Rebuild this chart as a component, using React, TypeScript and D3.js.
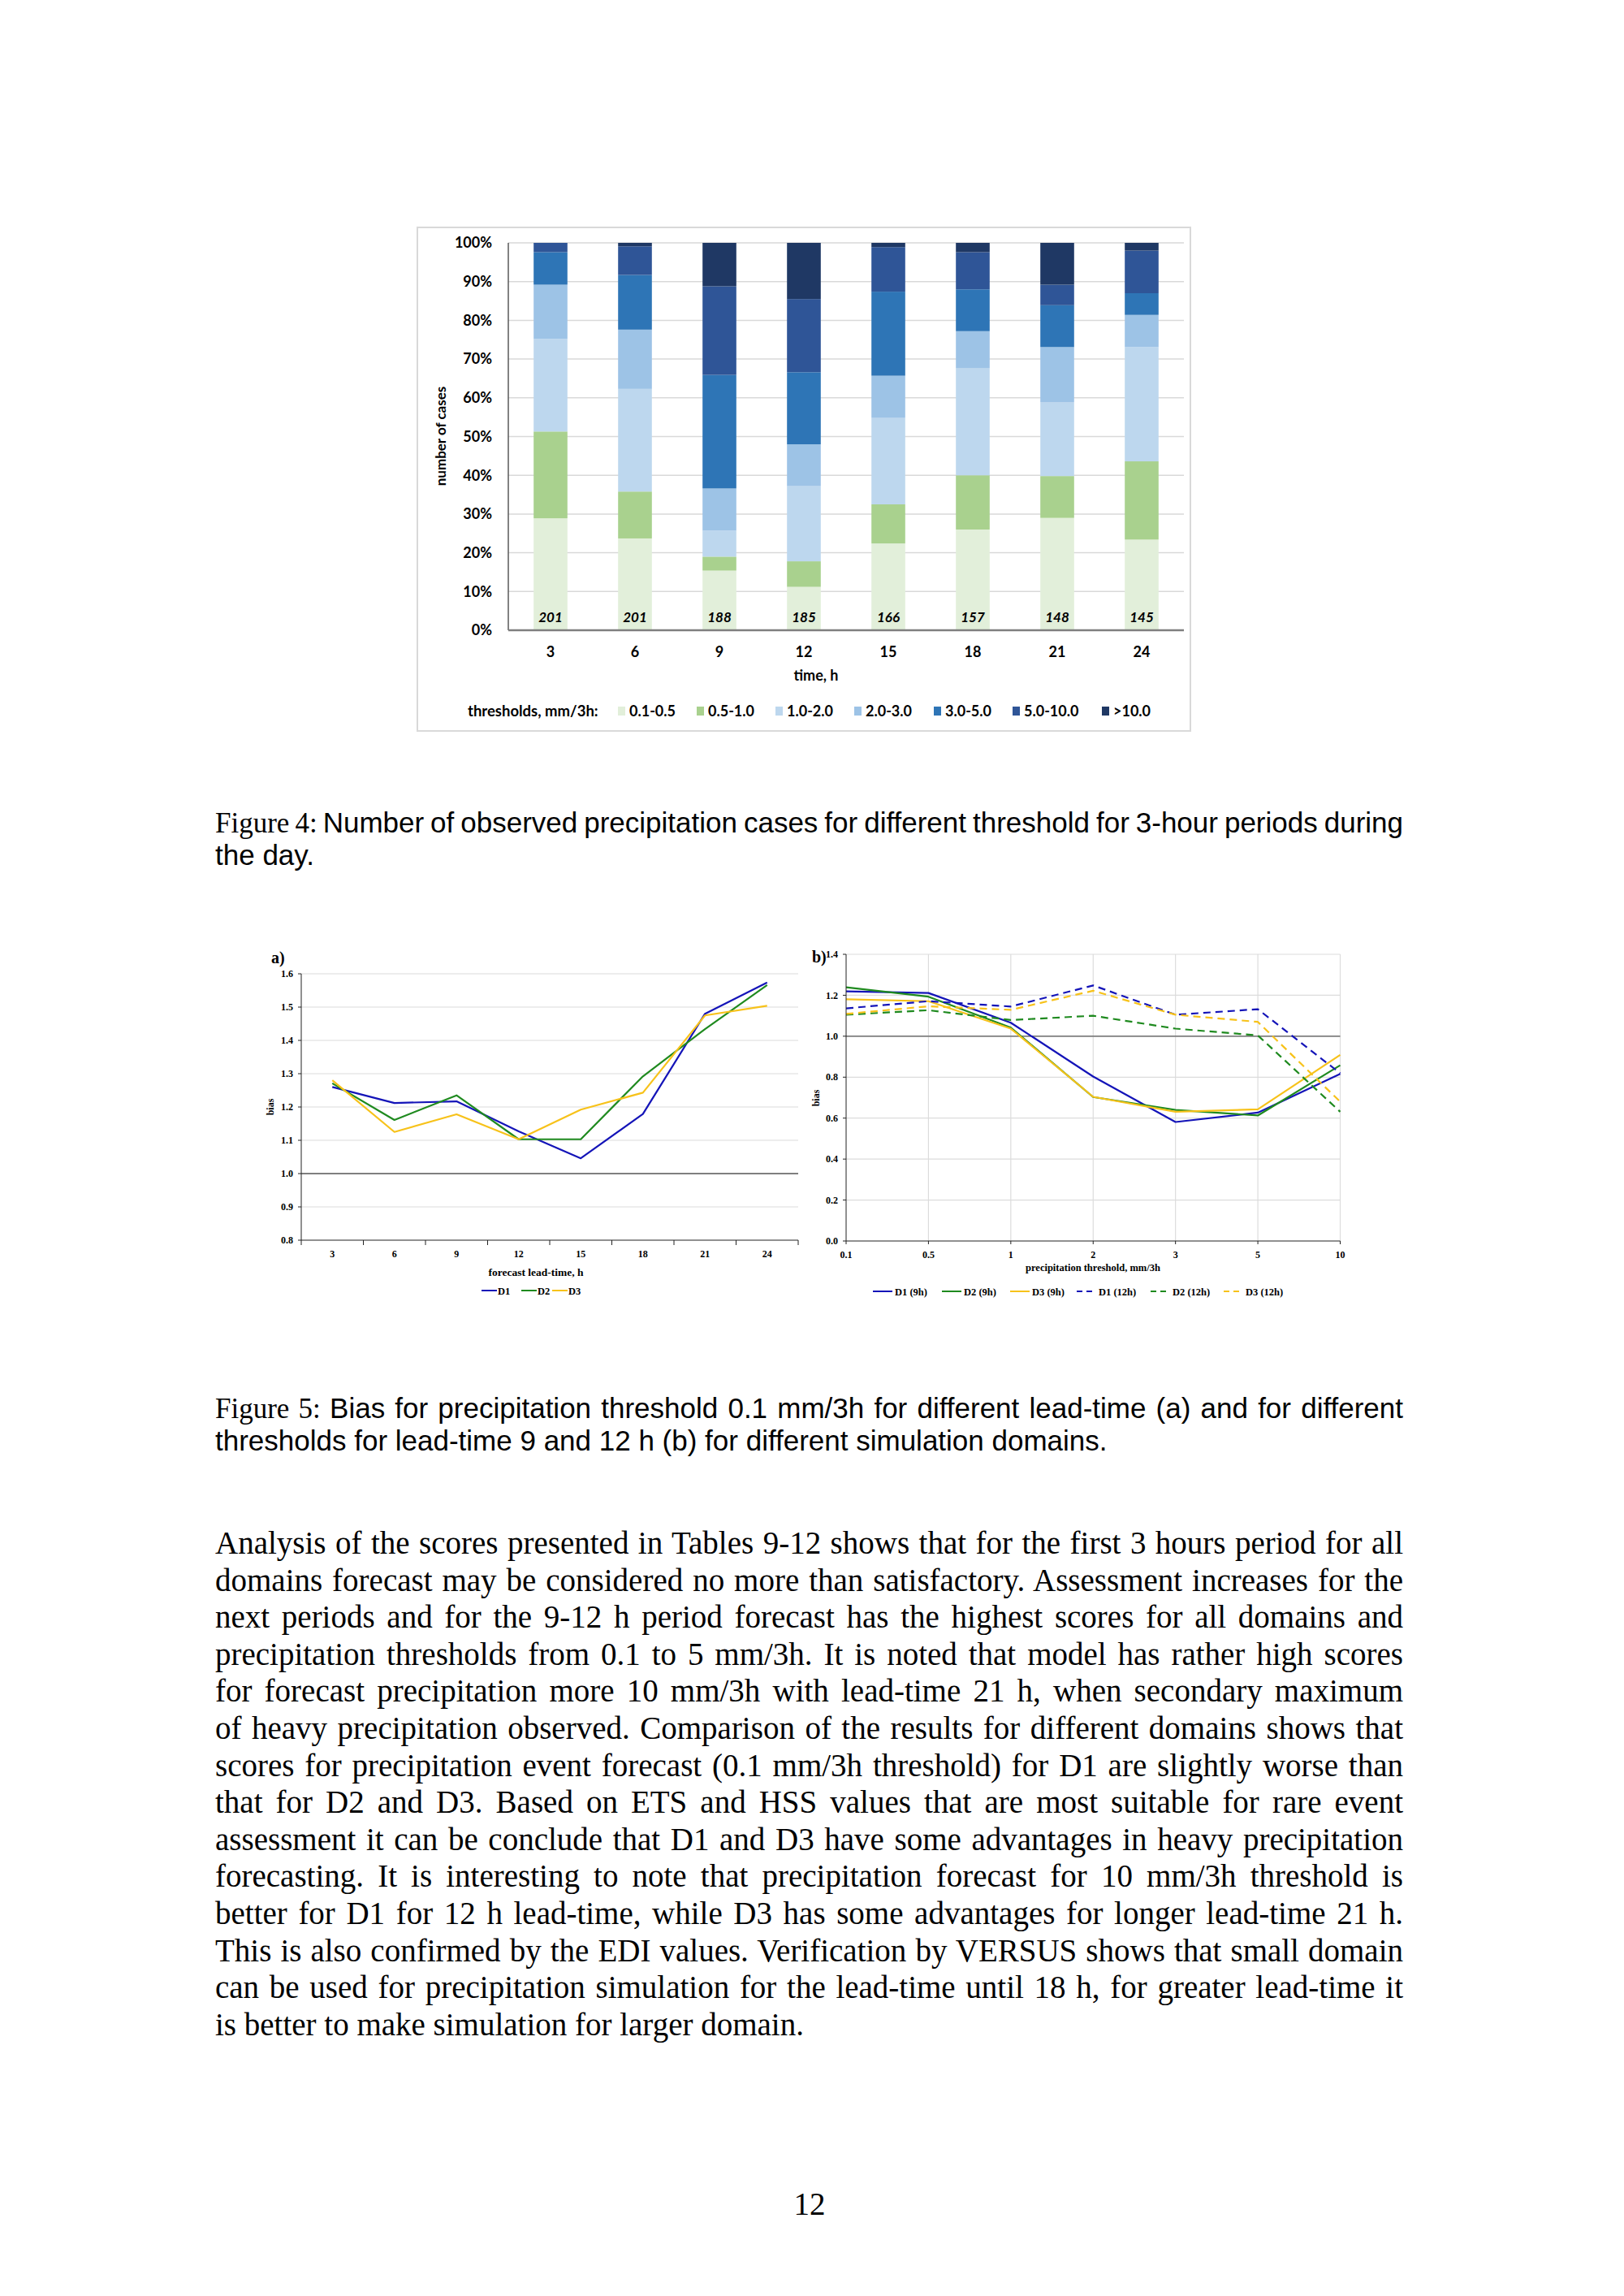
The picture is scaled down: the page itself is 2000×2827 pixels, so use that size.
import React, { useEffect, useRef } from 'react';
import * as d3 from 'd3';

// Figure 4: share of cases per threshold class (percent), per 3-hour period
const hours = [3, 6, 9, 12, 15, 18, 21, 24];
const caseCounts = [201, 201, 188, 185, 166, 157, 148, 145];
const thresholdClasses = ['0.1-0.5', '0.5-1.0', '1.0-2.0', '2.0-3.0', '3.0-5.0', '5.0-10.0', '>10.0'];
const share01to05 = [28.9, 23.7, 15.4, 11.2, 22.4, 26.0, 29.0, 23.4];
const share05to10 = [22.4, 12.1, 3.6, 6.6, 10.1, 14.0, 10.8, 20.2];
const share10to20 = [23.9, 26.5, 6.7, 19.4, 22.3, 27.6, 19.1, 29.5];
const share20to30 = [14.0, 15.3, 10.9, 10.8, 10.9, 9.6, 14.2, 8.3];
const share30to50 = [8.4, 14.1, 29.3, 18.6, 21.7, 10.8, 10.8, 5.6];
const share50to100 = [2.4, 7.4, 22.9, 18.9, 11.5, 9.6, 5.3, 11.0];
const shareOver10 = [0, 0.9, 11.2, 14.5, 1.1, 2.4, 10.8, 2.0];
const pctTicks = [0, 10, 20, 30, 40, 50, 60, 70, 80, 90, 100];

// Figure 5a: bias vs lead-time
const leadTimes = [3, 6, 9, 12, 15, 18, 21, 24];
const biasD1 = [1.26, 1.212, 1.217, 1.127, 1.046, 1.179, 1.48, 1.574];
const biasD2 = [1.271, 1.161, 1.235, 1.103, 1.103, 1.292, 1.434, 1.566];
const biasD3 = [1.28, 1.125, 1.178, 1.103, 1.192, 1.243, 1.475, 1.504];
const biasTicksA = [0.8, 0.9, 1.0, 1.1, 1.2, 1.3, 1.4, 1.5, 1.6];

// Figure 5b: bias vs precipitation threshold
const precipThresholds = ['0.1', '0.5', '1', '2', '3', '5', '10'];
const d1At9h = [1.219, 1.211, 1.066, 0.803, 0.581, 0.627, 0.816];
const d2At9h = [1.239, 1.193, 1.042, 0.703, 0.64, 0.613, 0.858];
const d3At9h = [1.18, 1.171, 1.037, 0.704, 0.631, 0.643, 0.909];
const d1At12h = [1.136, 1.171, 1.145, 1.248, 1.105, 1.132, 0.819];
const d2At12h = [1.105, 1.127, 1.079, 1.1, 1.037, 1.004, 0.631];
const d3At12h = [1.109, 1.146, 1.129, 1.222, 1.105, 1.07, 0.68];
const biasTicksB = [0, 0.2, 0.4, 0.6, 0.8, 1.0, 1.2, 1.4];

const bodyLines = [
  'Analysis of the scores presented in Tables 9-12 shows that for the first 3 hours period for all',
  'domains forecast may be considered no more than satisfactory. Assessment increases for the',
  'next periods and for the 9-12 h period forecast has the highest scores for all domains and',
  'precipitation thresholds from 0.1 to 5 mm/3h. It is noted that model has rather high scores',
  'for forecast precipitation more 10 mm/3h with lead-time 21 h, when secondary maximum',
  'of heavy precipitation observed. Comparison of the results for different domains shows that',
  'scores for precipitation event forecast (0.1 mm/3h threshold) for D1 are slightly worse than',
  'that for D2 and D3. Based on ETS and HSS values that are most suitable for rare event',
  'assessment it can be conclude that D1 and D3 have some advantages in heavy precipitation',
  'forecasting. It is interesting to note that precipitation forecast for 10 mm/3h threshold is',
  'better for D1 for 12 h lead-time, while D3 has some advantages for longer lead-time 21 h.',
  'This is also confirmed by the EDI values. Verification by VERSUS shows that small domain',
  'can be used for precipitation simulation for the lead-time until 18 h, for greater lead-time it',
  'is better to make simulation for larger domain.',
];

const classColors = ['#e2efda', '#a9d18e', '#bdd7ee', '#9dc3e6', '#2e75b6', '#2f5597', '#1f3864'];
const BLUE = '#1414b8';
const GREEN = '#1f8a1f';
const GOLD = '#f7c21a';

const chartFont = 'Lato, "Open Sans", sans-serif';
const timesFont = '"Liberation Serif", "DejaVu Serif", serif';
const sansFont = '"Liberation Sans", Arial, sans-serif';

const TEXT_LEFT = 265;
const TEXT_WIDTH = 1463;

function StackedBars() {
  const shares = [share01to05, share05to10, share10to20, share20to30, share30to50, share50to100, shareOver10];
  const table = hours.map((h, i) => {
    const row: Record<string, number> = { hour: h };
    thresholdClasses.forEach((c, k) => { row[c] = shares[k][i]; });
    return row;
  });
  const series = d3.stack<Record<string, number>>().keys(thresholdClasses)(table);

  const x = d3.scaleBand<number>().domain(hours).range([626, 1458]).paddingInner(0.6).paddingOuter(0.3);
  const y = d3.scaleLinear().domain([0, 100]).range([776, 299]);
  const legendX = [761, 858, 955, 1052, 1150, 1247, 1357];

  return (
    <g fontFamily={chartFont} fontWeight="bold">
      <rect x={514} y={280} width={952} height={620} fill="#fff" stroke="#d9d9d9" strokeWidth={2} />
      {pctTicks.filter(t => t > 0).map(t => (
        <line key={t} x1={626} x2={1458} y1={y(t)} y2={y(t)} stroke="#d9d9d9" strokeWidth={1.5} />
      ))}
      {series.map((s, k) => (
        <g key={s.key} fill={classColors[k]}>
          {s.map((d, i) => (
            <rect key={i} x={x(hours[i])} width={x.bandwidth()} y={y(d[1])} height={Math.max(0, y(d[0]) - y(d[1]))} />
          ))}
        </g>
      ))}
      <line x1={626} x2={626} y1={299} y2={776} stroke="#595959" strokeWidth={1.5} />
      <line x1={626} x2={1458} y1={776} y2={776} stroke="#7f7f7f" strokeWidth={2.5} />
      {pctTicks.map(t => (
        <text key={t} x={606} y={y(t)} dy="0.35em" textAnchor="end" fontSize={18}>{t}%</text>
      ))}
      {hours.map((h, i) => (
        <text key={h} x={(x(h) ?? 0) + x.bandwidth() / 2} y={766} textAnchor="middle" fontSize={17} fontStyle="italic">{caseCounts[i]}</text>
      ))}
      {hours.map(h => (
        <text key={h} x={(x(h) ?? 0) + x.bandwidth() / 2} y={809} textAnchor="middle" fontSize={18}>{h}</text>
      ))}
      <text x={1005} y={838} textAnchor="middle" fontSize={18}>time, h</text>
      <text transform="translate(549,537) rotate(-90)" textAnchor="middle" fontSize={17}>number of cases</text>
      <text x={576} y={882} fontSize={18.5}>thresholds, mm/3h:</text>
      {thresholdClasses.map((c, k) => (
        <g key={c}>
          <rect x={legendX[k]} y={870} width={9} height={11} fill={classColors[k]} />
          <text x={legendX[k] + 14} y={882} fontSize={18}>{c}</text>
        </g>
      ))}
    </g>
  );
}

function LeadTimeChart() {
  const x = d3.scaleBand<number>().domain(leadTimes).range([371, 983]);
  const y = d3.scaleLinear().domain([0.8, 1.6]).range([1527, 1199]);
  const cx = (v: number) => (x(v) ?? 0) + x.bandwidth() / 2;
  const line = d3.line<number>().x((_, i) => cx(leadTimes[i])).y(d => y(d));
  const lines = [
    { name: 'D1', values: biasD1, color: BLUE },
    { name: 'D2', values: biasD2, color: GREEN },
    { name: 'D3', values: biasD3, color: GOLD },
  ];
  const boundaries = d3.range(leadTimes.length + 1).map(i => 371 + i * x.step());
  const legendX = [593, 642, 680];

  return (
    <g fontFamily={timesFont} fontWeight="bold">
      <text x={334} y={1186} fontSize={20}>a)</text>
      {biasTicksA.filter(t => t > 0.8).map(t => (
        <line key={t} x1={371} x2={983} y1={y(t)} y2={y(t)}
          stroke={t === 1.0 ? '#7f7f7f' : '#dcdcdc'} strokeWidth={t === 1.0 ? 1.8 : 1.2} />
      ))}
      {lines.map(l => (
        <path key={l.name} d={line(l.values) ?? ''} fill="none" stroke={l.color} strokeWidth={2.2} strokeLinejoin="round" />
      ))}
      <line x1={371} x2={371} y1={1199} y2={1527} stroke="#222" strokeWidth={1} />
      <line x1={371} x2={983} y1={1527} y2={1527} stroke="#222" strokeWidth={1} />
      {biasTicksA.map(t => (
        <g key={t}>
          <line x1={367} x2={371} y1={y(t)} y2={y(t)} stroke="#222" />
          <text x={361} y={y(t)} dy="0.35em" textAnchor="end" fontSize={12}>{t.toFixed(1)}</text>
        </g>
      ))}
      {boundaries.map((b, i) => (
        <line key={i} x1={b} x2={b} y1={1527} y2={1533} stroke="#222" />
      ))}
      {leadTimes.map(t => (
        <text key={t} x={cx(t)} y={1548} textAnchor="middle" fontSize={12}>{t}</text>
      ))}
      <text x={660} y={1571} textAnchor="middle" fontSize={13.5}>forecast lead-time, h</text>
      <text transform="translate(337,1363) rotate(-90)" textAnchor="middle" fontSize={12}>bias</text>
      {lines.map((l, k) => (
        <g key={l.name}>
          <line x1={legendX[k]} x2={legendX[k] + 19} y1={1589} y2={1589} stroke={l.color} strokeWidth={2} />
          <text x={legendX[k] + 20} y={1593.5} fontSize={12.5}>{l.name}</text>
        </g>
      ))}
    </g>
  );
}

function ThresholdChart() {
  const x = d3.scalePoint<string>().domain(precipThresholds).range([1042, 1650.5]);
  const y = d3.scaleLinear().domain([0, 1.4]).range([1528, 1175]);
  const line = d3.line<number>().x((_, i) => x(precipThresholds[i]) ?? 0).y(d => y(d));
  const lines = [
    { name: 'D1 (9h)', values: d1At9h, color: BLUE, dash: '' },
    { name: 'D2 (9h)', values: d2At9h, color: GREEN, dash: '' },
    { name: 'D3 (9h)', values: d3At9h, color: GOLD, dash: '' },
    { name: 'D1 (12h)', values: d1At12h, color: BLUE, dash: '9,6' },
    { name: 'D2 (12h)', values: d2At12h, color: GREEN, dash: '9,6' },
    { name: 'D3 (12h)', values: d3At12h, color: GOLD, dash: '9,6' },
  ];
  const legendX = [1075, 1160, 1244, 1326, 1417, 1507];

  return (
    <g fontFamily={timesFont} fontWeight="bold">
      {precipThresholds.slice(1).map(p => (
        <line key={p} x1={x(p)} x2={x(p)} y1={1175} y2={1528} stroke="#dcdcdc" strokeWidth={1.2} />
      ))}
      {biasTicksB.filter(t => t > 0).map(t => (
        <line key={t} x1={1042} x2={1650.5} y1={y(t)} y2={y(t)}
          stroke={t === 1.0 ? '#7f7f7f' : '#dcdcdc'} strokeWidth={t === 1.0 ? 1.8 : 1.2} />
      ))}
      {lines.map(l => (
        <path key={l.name} d={line(l.values) ?? ''} fill="none" stroke={l.color} strokeWidth={2.2}
          strokeDasharray={l.dash || undefined} strokeLinejoin="round" />
      ))}
      <line x1={1042} x2={1042} y1={1175} y2={1528} stroke="#222" strokeWidth={1} />
      <line x1={1042} x2={1650.5} y1={1528} y2={1528} stroke="#222" strokeWidth={1} />
      {biasTicksB.map(t => (
        <g key={t}>
          <line x1={1038} x2={1042} y1={y(t)} y2={y(t)} stroke="#222" />
          <text x={1032} y={y(t)} dy="0.35em" textAnchor="end" fontSize={12}>{t.toFixed(1)}</text>
        </g>
      ))}
      {precipThresholds.map(p => (
        <g key={p}>
          <line x1={x(p)} x2={x(p)} y1={1528} y2={1532} stroke="#222" />
          <text x={x(p)} y={1549} textAnchor="middle" fontSize={12}>{p}</text>
        </g>
      ))}
      <text x={1000} y={1185} fontSize={20}>b)</text>
      <text x={1346} y={1565} textAnchor="middle" fontSize={12.5}>precipitation threshold, mm/3h</text>
      <text transform="translate(1009,1352) rotate(-90)" textAnchor="middle" fontSize={12}>bias</text>
      {lines.map((l, k) => (
        <g key={l.name}>
          <line x1={legendX[k]} x2={legendX[k] + 24} y1={1590} y2={1590} stroke={l.color} strokeWidth={2}
            strokeDasharray={l.dash ? '7,5' : undefined} />
          <text x={legendX[k] + 27} y={1594.5} fontSize={12.5}>{l.name}</text>
        </g>
      ))}
    </g>
  );
}

function Caption({ label, lines, y }: { label: string; lines: string[]; y: number }) {
  return (
    <g fontSize={35}>
      {lines.map((ln, i) => (
        <text key={i} className={i < lines.length - 1 ? 'justify' : undefined} x={TEXT_LEFT} y={y + i * 40.3}>
          {i === 0 && <tspan fontFamily={timesFont}>{label} </tspan>}
          <tspan fontFamily={sansFont}>{ln}</tspan>
        </text>
      ))}
    </g>
  );
}

export default function App() {
  const svgRef = useRef<SVGSVGElement>(null);

  // justify full-width lines by spreading the word gaps, like the typeset page
  useEffect(() => {
    if (!svgRef.current) return;
    d3.select(svgRef.current).selectAll<SVGTextElement, unknown>('text.justify').each(function () {
      this.removeAttribute('word-spacing');
      const len = this.getComputedTextLength();
      const gaps = (this.textContent || '').split(' ').length - 1;
      if (gaps > 0) this.setAttribute('word-spacing', String((TEXT_WIDTH - len) / gaps));
    });
  }, []);

  return (
    <div style={{ position: 'absolute', left: 0, top: 0 }}>
      <svg ref={svgRef} width={2000} height={2827} style={{ display: 'block', background: '#fff' }}>
        <rect width={2000} height={2827} fill="#fff" />
        <StackedBars />
        <Caption label="Figure 4:"
          lines={['Number of observed precipitation cases for different threshold for 3-hour periods during', 'the day.']}
          y={1025} />
        <LeadTimeChart />
        <ThresholdChart />
        <Caption label="Figure 5:"
          lines={['Bias for precipitation threshold 0.1 mm/3h for different lead-time (a) and for different', 'thresholds for lead-time 9 and 12 h (b) for different simulation domains.']}
          y={1746} />
        <g fontFamily={timesFont} fontSize={39}>
          {bodyLines.map((ln, i) => (
            <text key={i} className={i < bodyLines.length - 1 ? 'justify' : undefined}
              x={TEXT_LEFT} y={1913 + i * 45.6}>{ln}</text>
          ))}
          <text x={997} y={2727} textAnchor="middle">12</text>
        </g>
      </svg>
    </div>
  );
}
